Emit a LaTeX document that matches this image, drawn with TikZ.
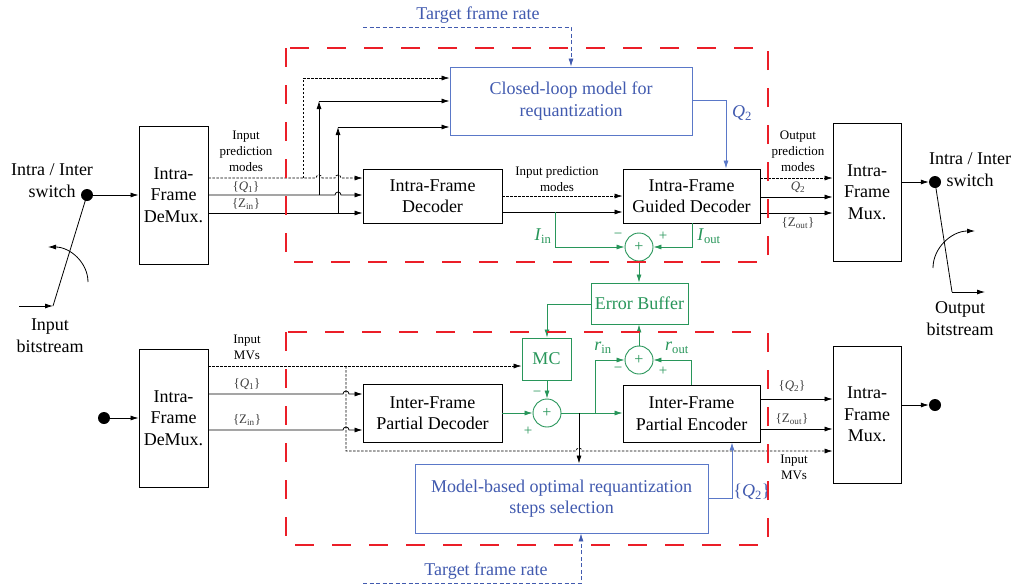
\documentclass[tikz,border=0pt]{standalone}
\usepackage{fontspec}
\setmainfont{Liberation Serif}
\usetikzlibrary{arrows.meta}
\definecolor{myred}{RGB}{235,30,40}
\definecolor{mygreen}{RGB}{40,150,90}
\definecolor{myblue}{RGB}{65,90,175}
\definecolor{myboxblue}{RGB}{90,120,200}
\begin{document}
\begin{tikzpicture}[x=1pt,y=-1pt,
  arr/.style={-{Latex[length=8pt,width=5pt]}},
  ln/.style={line width=0.8pt},
  dsh/.style={dash pattern=on 2.5pt off 1.5pt, line width=0.7pt},
  bdash/.style={dash pattern=on 4pt off 2.5pt, line width=0.8pt, draw=myblue},
  blk/.style={draw, line width=0.9pt, align=center, inner sep=0, font=\fontsize{18}{21.5}\selectfont},
  gbox/.style={blk, draw=mygreen, text=mygreen},
  bbox/.style={blk, draw=myboxblue, text=myblue},
  sumnode/.style={circle, draw=mygreen, line width=0.9pt, minimum size=28pt, inner sep=0, text=mygreen, font=\fontsize{16}{16}\selectfont},
  lbl/.style={inner sep=0, align=center, font=\fontsize{13}{16}\selectfont},
  big/.style={inner sep=0, align=center, font=\fontsize{18}{22}\selectfont},
  gl/.style={inner sep=0, text=mygreen, font=\fontsize{18}{22}\selectfont},
  sg/.style={inner sep=0, text=mygreen, font=\fontsize{15}{15}\selectfont},
  dotnode/.style={circle, fill, inner sep=0, minimum size=12pt},
  redbox/.style={draw=myred, line width=1.5pt, dash pattern=on 19pt off 18pt}]
\useasboundingbox (0,0) rectangle (1013,587);
\fill[white] (0,0) rectangle (1013,587);

% ---------- boxes ----------
\node[blk, minimum width=69pt, minimum height=138pt] (demuxT) at (173.5,195) {Intra-\\Frame\\DeMux.};
\node[blk, minimum width=139pt, minimum height=54pt] (decT) at (432.5,196) {Intra-Frame\\Decoder};
\node[bbox, minimum width=242pt, minimum height=68pt] (clm) at (571,101) {Closed-loop model for\\requantization};
\node[blk, minimum width=137pt, minimum height=54pt] (gdec) at (691.5,196) {Intra-Frame\\Guided Decoder};
\node[blk, minimum width=68pt, minimum height=138pt] (muxT) at (867,192) {Intra-\\Frame\\Mux.};
\node[gbox, minimum width=97pt, minimum height=41pt] (ebuf) at (639.5,303.5) {Error Buffer};
\node[gbox, minimum width=49pt, minimum height=42pt] (mc) at (546.5,359) {MC};
\node[blk, minimum width=69pt, minimum height=138pt] (demuxB) at (173.5,418) {Intra-\\Frame\\DeMux.};
\node[blk, minimum width=139pt, minimum height=58pt] (pdec) at (432.5,413) {Inter-Frame\\Partial Decoder};
\node[blk, minimum width=137pt, minimum height=57pt] (penc) at (691.5,413.5) {Inter-Frame\\Partial Encoder};
\node[blk, minimum width=68pt, minimum height=137pt] (muxB) at (867,414.5) {Intra-\\Frame\\Mux.};
\node[bbox, minimum width=293pt, minimum height=69pt] (mbs) at (561.5,498.5) {Model-based optimal requantization\\steps selection};
\node[sumnode] (addT) at (639,247) {+};
\node[sumnode] (addE) at (639,360) {+};
\node[sumnode] (addB) at (547,413) {+};

% ---------- switches ----------
\node[dotnode] (dotL) at (87,195) {};
\node[dotnode] (dotTR) at (935,182) {};
\node[dotnode] (dotBL) at (104,418) {};
\node[dotnode] (dotBR) at (935,405) {};
\coordinate (swL) at (53,306);
\coordinate (inL) at (19,306);
\coordinate (swR) at (952,292);
\coordinate (outR) at (985,292);
\draw[ln] (dotL.center) -- (swL);
\draw[ln,arr] (inL) -- (swL);
\draw[ln,arr] (88,282) arc[start angle=0,end angle=90,x radius=40pt,y radius=35pt];
\draw[ln,arr] (dotL.east) -- (demuxT.west |- dotL);
\draw[ln] (dotTR.center) -- (swR);
\draw[ln,arr] (swR) -- (outR);
\draw[ln,arr] (933,268) arc[start angle=180,end angle=90,x radius=42pt,y radius=37pt];
\draw[ln,arr] (muxT.east |- dotTR) -- (dotTR.west);
\draw[ln,arr] (dotBL.east) -- (demuxB.west |- dotBL);
\draw[ln,arr] (muxB.east |- dotBR) -- (dotBR.west);

\node[big] (swLt) at (52,181) {Intra / Inter\\switch};
\node[big] (inLt) at (50,336) {Input\\bitstream};
\node[big] (swRt) at (970,170) {Intra / Inter\\switch};
\node[big] (outRt) at (960,319) {Output\\bitstream};

% ---------- top section ----------
\coordinate (tA) at (303,178);
\coordinate (tB) at (319,195);
\coordinate (tC) at (338,213);
\coordinate (tA2) at (303,78);
\coordinate (tB2) at (319,101);
\coordinate (tC2) at (338,127);
\draw[dsh,arr] (demuxT.east |- tA) -- (316,178) arc[start angle=180,end angle=0,radius=3pt] -- (335,178) arc[start angle=180,end angle=0,radius=3pt] -- (decT.west |- tA);
\draw[ln,arr] (demuxT.east |- tB) -- (335,195) arc[start angle=180,end angle=0,radius=3pt] -- (decT.west |- tB);
\draw[ln,arr] (demuxT.east |- tC) -- (decT.west |- tC);
\draw[dsh,arr] (tA) -- (tA2) -- (clm.west |- tA2);
\draw[ln,arr] (tB) -- (tB2);
\draw[ln,arr] (tB2) -- (clm.west |- tB2);
\draw[ln,arr] (tC) -- (tC2);
\draw[ln,arr] (tC2) -- (clm.west |- tC2);

\node[lbl] (lIPM) at (246,151) {Input\\prediction\\modes};
\node[lbl, text=black!75] (lQ1t) at (246,187) {\{\textit{Q}\textsubscript{1}\}};
\node[lbl, text=black!75] (lZt) at (246,204) {\{Z\textsubscript{in}\}};

\coordinate (tfr1) at (363,27);
\coordinate (tfr2) at (571,27);
\draw[bdash,arr] (tfr1) -- (tfr2) -- (clm.north);
\node[big, text=myblue] (tfrT) at (478,15) {Target frame rate};

\coordinate (q2c) at (726,100);
\draw[ln, draw=myboxblue, arr] (clm.east |- q2c) -- (q2c) -- (gdec.north -| q2c);
\node[big, text=myblue] (q2l) at (742,113) {\textit{Q}\textsubscript{2}};

\coordinate (dA) at (0,196);
\coordinate (dB) at (0,212);
\draw[dsh,arr] (decT.east |- dA) -- (gdec.west |- dA);
\draw[ln,arr] (decT.east |- dB) -- (gdec.west |- dB);
\node[lbl] (lIPM2) at (557,179) {Input prediction\\modes};

\coordinate (iin) at (555,212);
\draw[ln,draw=mygreen,arr] (iin) -- (iin |- addT) -- (addT.west);
\coordinate (iout) at (692,223);
\draw[ln,draw=mygreen,arr] (gdec.south -| iout) -- (iout |- addT) -- (addT.east);
\node[gl] (lIin) at (543,236) {\textit{I}\textsubscript{in}};
\node[gl] (lIout) at (709,236) {\textit{I}\textsubscript{out}};
\node[sg] (m1) at (618,236) {−};
\node[sg] (p1) at (663,236) {+};

\coordinate (gA) at (0,178);
\coordinate (gB) at (0,197);
\coordinate (gC) at (0,213);
\draw[dsh,arr] (gdec.east |- gA) -- (muxT.west |- gA);
\draw[ln,arr] (gdec.east |- gB) -- (muxT.west |- gB);
\draw[ln,arr] (gdec.east |- gC) -- (muxT.west |- gC);
\node[lbl] (lOPM) at (798,151) {Output\\prediction\\modes};
\node[lbl, text=black!75] (lQ2t) at (798,187) {\textit{Q}\textsubscript{2}};
\node[lbl, text=black!75] (lZot) at (798,223) {\{Z\textsubscript{out}\}};

% ---------- middle (green) ----------
\draw[ln,draw=mygreen,arr] (addT.south) -- (ebuf.north -| addT);
\coordinate (eb) at (547,304);
\draw[ln,draw=mygreen,arr] (ebuf.west |- eb) -- (eb) -- (mc.north -| eb);
\draw[ln,draw=mygreen,arr] (mc.south -| addB) -- (addB.north);
\draw[ln,draw=mygreen,arr] (pdec.east |- addB) -- (addB.west);
\draw[ln,draw=mygreen,arr] (addB.east) -- (penc.west |- addB);
\coordinate (jR) at (595,413);
\coordinate (jB) at (579,413);
\draw[ln,draw=mygreen,arr] (jR) -- (jR |- addE) -- (addE.west);
\coordinate (ro) at (691,385);
\draw[ln,draw=mygreen,arr] (penc.north -| ro) -- (ro |- addE) -- (addE.east);
\draw[ln,draw=mygreen,arr] (addE.north) -- (ebuf.south -| addE);
\node[gl] (lrin) at (603,348) {\textit{r}\textsubscript{in}};
\node[gl] (lrout) at (677,348) {\textit{r}\textsubscript{out}};
\node[sg] (m2) at (618,370) {−};
\node[sg] (p2) at (663,371) {+};
\node[sg] (m3) at (537,394) {−};
\node[sg] (p3) at (528,431) {+};

% ---------- bottom section ----------
\coordinate (bA) at (346,366);
\coordinate (bA2) at (346,451);
\coordinate (bQ) at (0,394);
\coordinate (bZ) at (0,430);
\draw[dsh,arr] (demuxB.east |- bA) -- (mc.west |- bA);
\draw[dsh,arr] (bA) -- (bA2) -- (576,451) arc[start angle=180,end angle=0,radius=3pt] -- (muxB.west |- bA2);
\draw[ln,arr] (demuxB.east |- bQ) -- (343,394) arc[start angle=180,end angle=0,radius=3pt] -- (pdec.west |- bQ);
\draw[ln,arr] (demuxB.east |- bZ) -- (343,430) arc[start angle=180,end angle=0,radius=3pt] -- (pdec.west |- bZ);
\draw[ln,arr] (jB) -- (mbs.north -| jB);

\node[lbl] (lMV) at (247,347) {Input\\MVs};
\node[lbl, text=black!75] (lQ1b) at (247,384) {\{\textit{Q}\textsubscript{1}\}};
\node[lbl, text=black!75] (lZb) at (247,420) {\{Z\textsubscript{in}\}};

\coordinate (eQ) at (0,399);
\coordinate (eZ) at (0,429);
\draw[ln,arr] (penc.east |- eQ) -- (muxB.west |- eQ);
\draw[ln,arr] (penc.east |- eZ) -- (muxB.west |- eZ);
\node[lbl, text=black!75] (lQ2b) at (792,386) {\{\textit{Q}\textsubscript{2}\}};
\node[lbl, text=black!75] (lZob) at (792,419) {\{Z\textsubscript{out}\}};
\node[lbl] (lMV2) at (794,467) {Input\\MVs};

\coordinate (mq) at (732,498);
\draw[ln,draw=myboxblue,arr] (mbs.east |- mq) -- (mq) -- (penc.south -| mq);
\node[big, text=myblue] (lq2m) at (752,492) {\{\textit{Q}\textsubscript{2}\}};

\coordinate (tb1) at (363,583);
\coordinate (tb2) at (581,583);
\draw[bdash,arr] (tb1) -- (tb2) -- (mbs.south -| tb2);
\node[big, text=myblue] (tfrB) at (486,571) {Target frame rate};

% ---------- red dashed regions ----------
\draw[redbox] (286,48) rectangle (768,262);
\draw[redbox] (286,332) rectangle (768,545);
\end{tikzpicture}
\end{document}
